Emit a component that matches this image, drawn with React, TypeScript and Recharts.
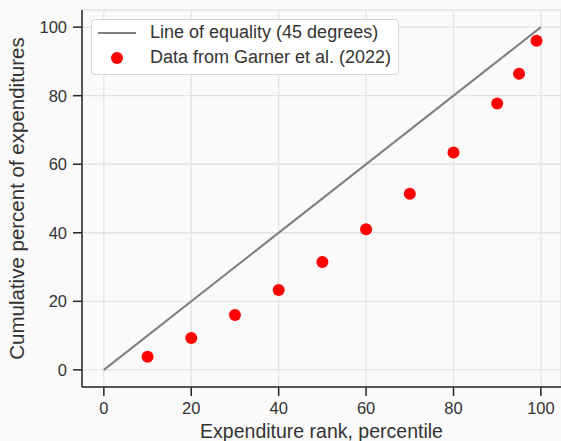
import { ScatterChart, Scatter, XAxis, YAxis, CartesianGrid } from "recharts";

// Garner et al. (2022) expenditure distribution
const rankPct = [10, 20, 30, 40, 50, 60, 70, 80, 90, 95, 99];
const cumSharePct = [3.8, 9.3, 16, 23.3, 31.5, 41, 51.4, 63.4, 77.7, 86.4, 96];

// 45 degree line end points
const equalityX = [0, 100];
const equalityY = [0, 100];

const ticks = [0, 20, 40, 60, 80, 100];

const points = rankPct.map((x, i) => ({ x, y: cumSharePct[i] }));
const equality = equalityX.map((x, i) => ({ x, y: equalityY[i] }));

const FONT = "'Liberation Sans', Arial, sans-serif";
const INK = "#333333";
const SPINE = "#262626";

const tickStyle = { fontSize: 16.5, fill: INK, fontFamily: FONT };

function Dot(props: any) {
  return <circle cx={props.cx} cy={props.cy} r={6} fill="#ff0000" />;
}

function LegendBox() {
  return (
    <div
      style={{
        position: "absolute",
        left: 91,
        top: 19,
        width: 306,
        height: 54,
        background: "#ffffff",
        border: "1px solid #d6d6d6",
        borderRadius: 4,
        fontFamily: FONT,
        fontSize: 18,
        color: INK,
      }}
    >
      <div style={{ position: "absolute", left: 6, top: 12, width: 38, height: 2, background: "#808080" }} />
      <div style={{ position: "absolute", left: 58, top: 2, whiteSpace: "nowrap" }}>
        Line of equality (45 degrees)
      </div>
      <div
        style={{
          position: "absolute",
          left: 19,
          top: 32,
          width: 12,
          height: 12,
          borderRadius: 6,
          background: "#ff0000",
        }}
      />
      <div style={{ position: "absolute", left: 58, top: 27, whiteSpace: "nowrap" }}>
        Data from Garner et al. (2022)
      </div>
    </div>
  );
}

export default function App() {
  return (
    <div
      style={{
        position: "fixed",
        left: 0,
        top: 0,
        width: 561,
        height: 441,
        background: "#fafafa",
        overflow: "hidden",
      }}
    >
      <ScatterChart width={561} height={441} margin={{ top: 10, right: 0, bottom: 0, left: 0 }}>
        <CartesianGrid stroke="#e4e4e4" strokeWidth={1.3} />
        <XAxis
          type="number"
          dataKey="x"
          domain={[-5, 104.6]}
          ticks={ticks}
          allowDataOverflow
          height={54}
          tick={tickStyle}
          tickSize={9}
          tickMargin={6}
          tickLine={{ stroke: SPINE, strokeWidth: 1.5 }}
          axisLine={{ stroke: SPINE, strokeWidth: 1.5 }}
          label={{
            value: "Expenditure rank, percentile",
            position: "insideBottom",
            offset: 0,
            dy: -3,
            style: { fontSize: 19.5, fill: INK, fontFamily: FONT },
          }}
        />
        <YAxis
          type="number"
          dataKey="y"
          domain={[-5, 105]}
          ticks={ticks}
          allowDataOverflow
          width={82}
          tick={tickStyle}
          tickSize={9}
          tickMargin={6}
          tickLine={{ stroke: SPINE, strokeWidth: 1.5 }}
          axisLine={{ stroke: SPINE, strokeWidth: 1.5 }}
          label={{
            value: "Cumulative percent of expenditures",
            angle: -90,
            position: "insideLeft",
            offset: 0,
            dx: 17,
            style: { fontSize: 20.5, fill: INK, fontFamily: FONT, textAnchor: "middle" },
          }}
        />
        <Scatter
          data={equality}
          line={{ stroke: "#808080", strokeWidth: 2 }}
          shape={() => <g />}
          isAnimationActive={false}
        />
        <Scatter data={points} shape={Dot} isAnimationActive={false} />
      </ScatterChart>
      <LegendBox />
    </div>
  );
}
